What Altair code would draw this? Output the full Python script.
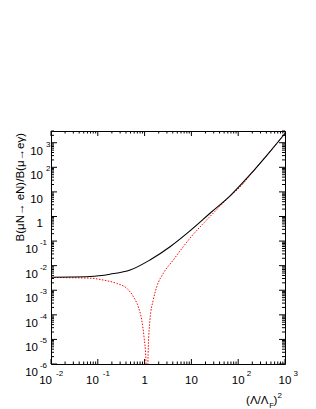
import altair as alt
import pandas as pd

# ---- data ----
black_x = [0.01, 0.03, 0.068, 0.182, 0.49, 1.3, 3.5, 9.3, 25, 67, 179, 478, 1000]
black_y = [3.4e-3, 3.45e-3, 3.6e-3, 4.5e-3, 6.6e-3, 0.017, 0.059, 0.26, 1.35, 6.9, 50, 437, 2400]

red_x = [0.01, 0.068, 0.131, 0.253, 0.415, 0.574, 0.733, 0.867, 0.97, 1.07, 1.11,
         1.2, 1.3, 1.53, 1.82, 2.51, 4.1, 6.7, 9.3, 25, 63, 126, 179, 478, 1000]
red_y = [3.3e-3, 3.1e-3, 2.6e-3, 1.9e-3, 1.2e-3, 5.5e-4, 2.1e-4, 6.2e-5, 1.3e-5, 1.4e-6, 1e-8,
         5.0e-6, 6.2e-5, 4.0e-4, 1.4e-3, 4.9e-3, 0.017, 0.059, 0.13, 1.0, 6.0, 21, 48, 437, 2400]

x_major = [0.01, 0.1, 1, 10, 100, 1000]
x_base = ["10", "10", "1", "10", "10", "10"]
x_exp = ["-2", "-1", "", "", "2", "3"]

y_major = [1e-6, 1e-5, 1e-4, 1e-3, 1e-2, 1e-1, 1, 10, 100, 1000]
y_base = ["10", "10", "10", "10", "10", "10", "1", "10", "10", "10"]
y_exp = ["-6", "-5", "-4", "-3", "-2", "-1", "", "", "2", "3"]

x_minor = [m * 10.0 ** k for k in range(-2, 3) for m in range(2, 10)]
y_minor = [m * 10.0 ** k for k in range(-6, 4) for m in range(2, 10) if m * 10.0 ** k <= 3000]

y_title = "B(μN→ eN)/B(μ→eγ)"
x_title_main = "(Λ/Λ"
x_title_sub = "F"
x_title_close = ")"
x_title_sup = "2"

W, H = 234, 233
FONT = "Liberation Sans"

xs = alt.Scale(type="log", domain=[0.01, 1000], nice=False)
ys = alt.Scale(type="log", domain=[1e-6, 3000], nice=False)

df_black = pd.DataFrame({"x": black_x, "y": black_y})
df_red = pd.DataFrame({"x": red_x, "y": red_y})
df_xl = pd.DataFrame({"v": x_major, "base": x_base, "exp": x_exp})
df_yl = pd.DataFrame({"v": y_major, "base": y_base, "exp": y_exp})
df_xmaj = pd.DataFrame({"v": x_major})
df_ymaj = pd.DataFrame({"v": y_major})
df_xmin = pd.DataFrame({"v": x_minor})
df_ymin = pd.DataFrame({"v": y_minor})

X = lambda f="v": alt.X(f"{f}:Q", scale=xs, axis=None)
Y = lambda f="v": alt.Y(f"{f}:Q", scale=ys, axis=None)

layers = []

# curves
layers.append(alt.Chart(df_red).mark_line(color="#ff0000", strokeWidth=1, strokeDash=[1.5, 1.5],
                                          interpolate="monotone", clip=True)
              .encode(x=X("x"), y=Y("y"), order="x:Q"))
layers.append(alt.Chart(df_black).mark_line(color="black", strokeWidth=1.1,
                                            interpolate="monotone", clip=True)
              .encode(x=X("x"), y=Y("y"), order="x:Q"))

# ticks (inside the frame, all four sides)
tick = dict(color="black", strokeWidth=1)
for df, L in ((df_xmaj, 5), (df_xmin, 2.5)):
    layers.append(alt.Chart(df).mark_rule(**tick).encode(x=X(), y=alt.value(H), y2=alt.value(H - L)))
    layers.append(alt.Chart(df).mark_rule(**tick).encode(x=X(), y=alt.value(0), y2=alt.value(L)))
for df, L in ((df_ymaj, 6), (df_ymin, 3)):
    layers.append(alt.Chart(df).mark_rule(**tick).encode(y=Y(), x=alt.value(0), x2=alt.value(L)))
    layers.append(alt.Chart(df).mark_rule(**tick).encode(y=Y(), x=alt.value(W), x2=alt.value(W - L)))

BS, ES = 11.5, 8
neg = "indexof(datum.exp, '-') == 0"
pos = "datum.exp != '' && indexof(datum.exp, '-') != 0"
plain = "datum.exp == ''"

# x tick labels
xl = alt.Chart(df_xl)
layers.append(xl.transform_filter(neg).mark_text(align="right", font=FONT, fontSize=BS, dx=1)
              .encode(x=X(), y=alt.value(H + 16.5), text="base:N"))
layers.append(xl.transform_filter(neg).mark_text(align="left", font=FONT, fontSize=ES, dx=5)
              .encode(x=X(), y=alt.value(H + 9.5), text="exp:N"))
layers.append(xl.transform_filter(pos).mark_text(align="center", font=FONT, fontSize=BS)
              .encode(x=X(), y=alt.value(H + 16.5), text="base:N"))
layers.append(xl.transform_filter(pos).mark_text(align="left", font=FONT, fontSize=ES, dx=8.5)
              .encode(x=X(), y=alt.value(H + 9.5), text="exp:N"))
layers.append(xl.transform_filter(plain).mark_text(align="center", font=FONT, fontSize=BS)
              .encode(x=X(), y=alt.value(H + 16.5), text="base:N"))

# y tick labels
yl = alt.Chart(df_yl)
layers.append(yl.transform_filter(neg).mark_text(align="right", font=FONT, fontSize=ES, dy=2)
              .encode(y=Y(), x=alt.value(-4), text="exp:N"))
layers.append(yl.transform_filter(neg).mark_text(align="right", font=FONT, fontSize=BS, dy=9)
              .encode(y=Y(), x=alt.value(-13), text="base:N"))
layers.append(yl.transform_filter(pos).mark_text(align="left", font=FONT, fontSize=ES, dy=2)
              .encode(y=Y(), x=alt.value(-5), text="exp:N"))
layers.append(yl.transform_filter(pos).mark_text(align="right", font=FONT, fontSize=BS, dy=9)
              .encode(y=Y(), x=alt.value(-8), text="base:N"))
layers.append(yl.transform_filter(plain).mark_text(align="right", font=FONT, fontSize=BS, dy=8)
              .encode(y=Y(), x=alt.value(-8), text="base:N"))

# axis titles
def txt(s, x, y, size, align="left", angle=0):
    return (alt.Chart(pd.DataFrame({"t": [s]}))
            .mark_text(align=align, baseline="alphabetic", font=FONT, fontSize=size, angle=angle)
            .encode(x=alt.value(x), y=alt.value(y), text="t:N"))

layers.append(txt(y_title, -27, 2, 11.5, align="right", angle=270))
layers.append(txt(x_title_main, W - 16.5, H + 40, 11.5, align="right"))
layers.append(txt(x_title_sub, W - 15.8, H + 43.5, 7.5))
layers.append(txt(x_title_close, W - 11.5, H + 40, 11.5))
layers.append(txt(x_title_sup, W - 7.5, H + 34, 8))

chart = (alt.layer(*layers)
         .properties(width=W, height=H, autosize=alt.AutoSizeParams(type="none"),
                     padding={"left": 43, "top": 123, "right": 23, "bottom": 47})
         .configure_view(stroke="black", strokeWidth=1))

chart.save("out.html", embed_options={"renderer": "svg", "actions": False})
